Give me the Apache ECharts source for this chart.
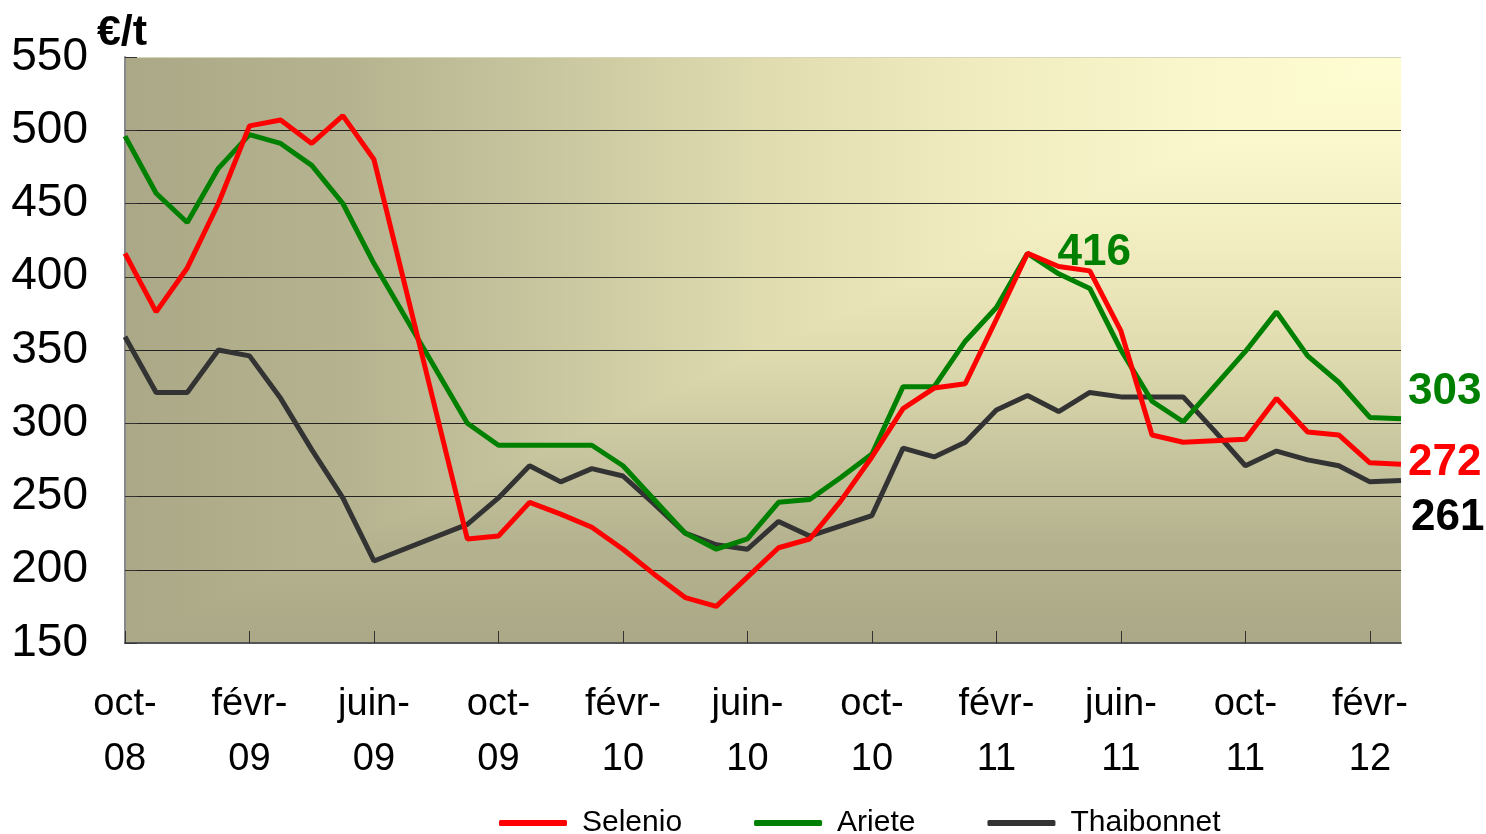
<!DOCTYPE html>
<html>
<head>
<meta charset="utf-8">
<script src="https://cdn.jsdelivr.net/npm/echarts@6/dist/echarts.min.js"></script>
<style>
html,body{margin:0;padding:0;background:#fff;}
#chart{width:1486px;height:834px;}
</style>
</head>
<body>
<div id="chart"></div>
<script>
const categories = ['oct-08','nov-08','déc-08','janv-09','févr-09','mars-09','avr-09','mai-09','juin-09','juil-09','août-09','sept-09',
  'oct-09','nov-09','déc-09','janv-10','févr-10','mars-10','avr-10','mai-10','juin-10','juil-10','août-10','sept-10',
  'oct-10','nov-10','déc-10','janv-11','févr-11','mars-11','avr-11','mai-11','juin-11','juil-11','août-11','sept-11',
  'oct-11','nov-11','déc-11','janv-12','févr-12','mars-12'];
const selenio = [416,376,406,450,503,507,491,510,480,null,null,221,223,246,238,229,214,197,181,175,195,215,221,247,277,310,324,327,371,416,407,404,363,292,287,288,289,317,294,292,273,272];
const ariete = [496,457,437,474,497,491,476,450,409,null,null,300,285,285,285,285,271,248,225,214,221,246,248,263,279,325,325,356,379,416,402,392,350,315,301,325,349,376,346,328,304,303];
const thaibonnet = [359,321,321,350,346,317,282,249,206,null,null,231,249,271,260,269,264,245,225,217,214,233,223,230,237,283,277,287,309,319,308,321,318,318,318,295,271,281,275,271,260,261];
const seriesNames = ['Selenio','Ariete','Thaibonnet'];
const yTicks = {min:150, max:550, step:50};
const peakIndex = 29;

const sans = "'Liberation Sans',Arial,sans-serif";

const G = {left:125, top:57, right:85, bottom:191};
const W = 1486, H = 834;
const gx0 = G.left, gy0 = G.top, gx1 = W - G.right, gy1 = H - G.bottom;

// "from corner" rectangular gradient: light at top-right, dark olive away from it
const stops = [
  {offset:0, color:'#fffdd3'},{offset:0.17, color:'#f9f6cb'},{offset:0.33, color:'#f0ecc0'},
  {offset:0.5, color:'#e0dcb0'},{offset:0.67, color:'#c8c69f'},{offset:0.83, color:'#b5b38f'},
  {offset:1, color:'#aaa886'}];
const revStops = stops.map(s=>({offset:1-s.offset, color:s.color})).reverse();

const chart = echarts.init(document.getElementById('chart'));

function endLabel(color, offset){
  return {show:true, formatter:p=>String(p.value), color:color, fontSize:44, fontWeight:'bold',
    fontFamily:sans, offset:offset, distance:5};
}

const option = {
  animation:false,
  graphic:[
    {type:'rect', z:-10, silent:true,
      shape:{x:gx0, y:gy0, width:gx1-gx0, height:gy1-gy0},
      style:{fill:{type:'linear', x:0, y:0, x2:0, y2:1, colorStops:stops}}},
    {type:'polygon', z:-9, silent:true,
      shape:{points:[[gx0,gy0],[gx1,gy0],[gx0,gy1]]},
      style:{fill:{type:'linear', x:0, y:0, x2:1, y2:0, colorStops:revStops}}}
  ],
  grid:{left:G.left, top:G.top, right:G.right, bottom:G.bottom, show:false},
  legend:{data:seriesNames, left:494, top:803, icon:'roundRect', itemWidth:68, itemHeight:6, itemGap:72,
    textStyle:{fontSize:30, fontFamily:sans, color:'#000', padding:[0,0,0,10]}},
  xAxis:{type:'category', data:categories, boundaryGap:false,
    axisLine:{lineStyle:{color:'#555', width:2}},
    axisTick:{inside:true, length:12, interval:3, lineStyle:{color:'#333', width:1}},
    axisLabel:{interval:3, margin:34, fontSize:38, lineHeight:55, fontFamily:sans, color:'#000',
      formatter:v=>v.replace('-','-\n')},
    splitLine:{show:false}},
  yAxis:{type:'value', min:yTicks.min, max:yTicks.max, interval:yTicks.step,
    name:'€/t', nameLocation:'end', nameGap:24,
    nameTextStyle:{fontSize:43, fontWeight:'bold', fontFamily:sans, color:'#000', align:'center', verticalAlign:'middle', padding:[0,6,0,0]},
    axisLine:{show:true, lineStyle:{color:'#888', width:2}},
    axisTick:{show:true, inside:true, length:12, lineStyle:{color:'#333'}},
    axisLabel:{margin:37, fontSize:46, fontFamily:sans, color:'#000'},
    splitLine:{show:true, lineStyle:{color:['#555','#222','#222','#222','#222','#222','#222','#222','#d8d6b8'], width:1}}},
  series:[
    {name:'Selenio', type:'line', data:selenio, connectNulls:true, symbol:'none', z:3,
      lineStyle:{color:'#ff0000', width:5}, itemStyle:{color:'#ff0000'},
      endLabel:endLabel('#ff0000',[2,-1])},
    {name:'Ariete', type:'line', data:ariete, connectNulls:true, symbol:'none', z:2,
      lineStyle:{color:'#008000', width:5}, itemStyle:{color:'#008000'},
      endLabel:endLabel('#008000',[2,-27]),
      markPoint:{symbol:'circle', symbolSize:0, silent:true,
        data:[{coord:[peakIndex, ariete[peakIndex]], value:ariete[peakIndex]}],
        label:{show:true, position:'right', distance:30, formatter:'{c}', color:'#008000',
          fontSize:44, fontWeight:'bold', fontFamily:sans}}},
    {name:'Thaibonnet', type:'line', data:thaibonnet, connectNulls:true, symbol:'none', z:1,
      lineStyle:{color:'#333333', width:5}, itemStyle:{color:'#333333'},
      endLabel:endLabel('#000000',[5,37])}
  ]
};
chart.setOption(option);
</script>
</body>
</html>
